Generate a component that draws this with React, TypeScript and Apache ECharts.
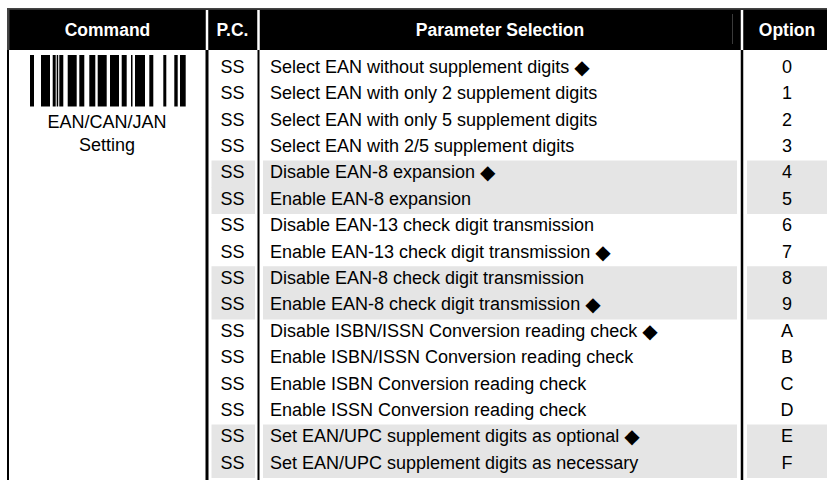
import React, { useEffect, useRef } from "react";
import * as echarts from "echarts";

const headers = ["Command", "P.C.", "Parameter Selection", "Option"];
const commandLabel = ["EAN/CAN/JAN", "Setting"];
const pcCodes = ["SS", "SS", "SS", "SS", "SS", "SS", "SS", "SS", "SS", "SS", "SS", "SS", "SS", "SS", "SS", "SS"];
const parameters = [
  "Select EAN without supplement digits ◆",
  "Select EAN with only 2 supplement digits",
  "Select EAN with only 5 supplement digits",
  "Select EAN with 2/5 supplement digits",
  "Disable EAN-8 expansion ◆",
  "Enable EAN-8 expansion",
  "Disable EAN-13 check digit transmission",
  "Enable EAN-13 check digit transmission ◆",
  "Disable EAN-8 check digit transmission",
  "Enable EAN-8 check digit transmission ◆",
  "Disable ISBN/ISSN Conversion reading check ◆",
  "Enable ISBN/ISSN Conversion reading check",
  "Enable ISBN Conversion reading check",
  "Enable ISSN Conversion reading check",
  "Set EAN/UPC supplement digits as optional ◆",
  "Set EAN/UPC supplement digits as necessary",
];
const optionCodes = ["0", "1", "2", "3", "4", "5", "6", "7", "8", "9", "A", "B", "C", "D", "E", "F"];
const shadedRows = [false, false, false, false, true, true, false, false, true, true, false, false, false, false, true, true];
// barcode bars: [offset, width] in px from barcode left
const barcodeBars = [
  [0, 4], [11, 9], [22.7, 3], [26.7, 1.5], [29.3, 4], [37.7, 9], [49.3, 5], [59.3, 6],
  [67.7, 9], [80, 9], [91.7, 5], [101, 1.5], [105, 10], [119.3, 4], [133.3, 3], [144.3, 3.4], [150, 5.7],
];

const FONT = "'Liberation Sans', Arial, Helvetica, sans-serif";

export default function App() {
  const ref = useRef<HTMLDivElement>(null);
  useEffect(() => {
    if (!ref.current) return;
    const chart = echarts.init(ref.current, null, { renderer: "svg" });

    const W = 827;
    const H = 480;
    const colX = [8, 207, 258.5, 742, 832];
    const headTop = 8;
    const headBot = 50;
    const bodyTop = 55;
    const rowH = 26.4;
    const elements: any[] = [];

    elements.push({ type: "rect", shape: { x: 0, y: 0, width: W, height: H }, style: { fill: "#fff" }, silent: true });

    shadedRows.forEach((s, i) => {
      if (!s) return;
      const y = bodyTop + i * rowH;
      const h = rowH + 0.6;
      elements.push({ type: "rect", shape: { x: 211.5, y, width: 43.5, height: h }, style: { fill: "#e5e5e5" }, silent: true });
      elements.push({ type: "rect", shape: { x: 263, y, width: 474, height: h }, style: { fill: "#e5e5e5" }, silent: true });
      elements.push({ type: "rect", shape: { x: 747, y, width: W - 747, height: h }, style: { fill: "#e5e5e5" }, silent: true });
    });

    // header
    elements.push({ type: "rect", shape: { x: 7, y: headTop, width: W - 7, height: headBot - headTop }, style: { fill: "#444" }, silent: true });
    elements.push({ type: "rect", shape: { x: 9.5, y: headTop + 1.8, width: W - 9.5, height: headBot - headTop - 1.8 }, style: { fill: "#000" }, silent: true });
    [colX[1], colX[2], colX[3]].forEach((x) => {
      elements.push({ type: "line", shape: { x1: x, y1: headTop + 2, x2: x, y2: headBot }, style: { stroke: "#fff", lineWidth: 2.5 }, silent: true });
    });
    elements.push({ type: "line", shape: { x1: 732.5, y1: 14, x2: 732.5, y2: 44 }, style: { stroke: "#3a3a3a", lineWidth: 1 }, silent: true });
    const headCenters = [107.5, 232.5, 500, 787];
    headers.forEach((h, i) => {
      elements.push({
        type: "text",
        x: headCenters[i],
        y: (headTop + headBot) / 2 + 1,
        style: { text: h, fill: "#fff", font: `bold 17.5px ${FONT}`, align: "center", verticalAlign: "middle" },
        silent: true,
      });
    });

    // body vertical lines
    const lineWidths = [2, 3, 2, 2.5];
    [colX[0], colX[1], colX[2], colX[3]].forEach((x, i) => {
      elements.push({ type: "line", shape: { x1: x, y1: headBot, x2: x, y2: H }, style: { stroke: "#000", lineWidth: lineWidths[i] }, silent: true });
    });

    // barcode
    const bx = 30;
    barcodeBars.forEach(([o, w]) => {
      elements.push({ type: "rect", shape: { x: bx + o, y: 55, width: w, height: 51.5 }, style: { fill: "#000" }, silent: true });
    });
    commandLabel.forEach((t, i) => {
      elements.push({
        type: "text",
        x: 107,
        y: 122 + i * 23,
        style: { text: t, fill: "#000", font: `18px ${FONT}`, align: "center", verticalAlign: "middle" },
        silent: true,
      });
    });

    // rows
    parameters.forEach((p, i) => {
      const cy = bodyTop + i * rowH + rowH / 2 - 1.5;
      const hasDiamond = p.endsWith("◆");
      const label = hasDiamond ? p.slice(0, -1) + "{d|◆}" : p;
      elements.push({ type: "text", x: 232.5, y: cy, style: { text: pcCodes[i], fill: "#000", font: `18px ${FONT}`, align: "center", verticalAlign: "middle" }, silent: true });
      elements.push({
        type: "text",
        x: 270,
        y: cy,
        style: {
          text: label,
          fill: "#000",
          font: `18px ${FONT}`,
          align: "left",
          verticalAlign: "middle",
          rich: { d: { fontSize: 20, fontFamily: "DejaVu Sans", fill: "#000" } },
        },
        silent: true,
      });
      elements.push({ type: "text", x: 787, y: cy, style: { text: optionCodes[i], fill: "#000", font: `18px ${FONT}`, align: "center", verticalAlign: "middle" }, silent: true });
    });

    chart.setOption({ animation: false, graphic: { elements } });
    return () => chart.dispose();
  }, []);
  return <div ref={ref} style={{ position: "absolute", left: 0, top: 0, width: 827, height: 480 }} />;
}
